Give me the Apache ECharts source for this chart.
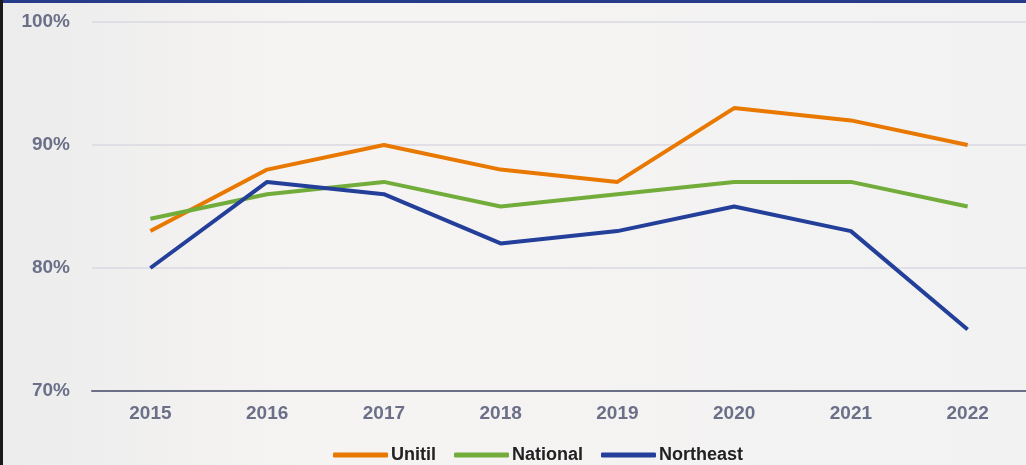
<!DOCTYPE html>
<html><head><meta charset="utf-8">
<script src="https://cdn.jsdelivr.net/npm/echarts@6/dist/echarts.min.js"></script>
<style>html,body{margin:0;padding:0;background:#f2f2f2}#c{width:1026px;height:465px}</style>
</head><body><div id="c"></div>
<script>
const categories = ['2015','2016','2017','2018','2019','2020','2021','2022'];
const unitil = [83, 88, 90, 88, 87, 93, 92, 90];
const national = [84, 86, 87, 85, 86, 87, 87, 85];
const northeast = [80, 87, 86, 82, 83, 85, 83, 75];
const yTicks = [70, 80, 90, 100];

const chart = echarts.init(document.getElementById('c'));
const font = '"Liberation Sans", Arial, sans-serif';
function line(name, data, color) {
  return { name, type: 'line', data, symbol: 'none', lineStyle: { color, width: 4 }, itemStyle: { color } };
}
chart.setOption({
  backgroundColor: {
    type: 'linear', x: 0, y: 0, x2: 1, y2: 0,
    colorStops: [{ offset: 0, color: '#ececec' }, { offset: 0.3, color: '#f6f4f3' }, { offset: 1, color: '#f2f2f2' }]
  },
  animation: false,
  graphic: [
    { type: 'rect', left: 0, top: 0, shape: { width: 1026, height: 3 }, style: { fill: '#263b8a' } },
    { type: 'rect', left: 0, top: 0, shape: { width: 3, height: 465 }, style: { fill: '#1a1a1a' } }
  ],
  grid: { left: 92, top: 22, width: 936, bottom: 74, containLabel: false },
  legend: {
    bottom: -4, left: 328, itemWidth: 55, itemHeight: 5, itemGap: 18,
    icon: 'roundRect',
    textStyle: { fontFamily: font, fontWeight: 'bold', fontSize: 18, color: '#222222', padding: [0, 0, 0, -2] },
    data: ['Unitil', 'National', 'Northeast']
  },
  xAxis: {
    type: 'category', data: categories, boundaryGap: true,
    axisLine: { lineStyle: { color: '#6b7088', width: 2 } },
    axisTick: { show: false },
    axisLabel: { fontFamily: font, fontWeight: 'bold', fontSize: 19, color: '#6b7088', margin: 13 }
  },
  yAxis: {
    type: 'value', min: yTicks[0], max: yTicks[yTicks.length - 1], interval: 10,
    axisLine: { show: false }, axisTick: { show: false },
    splitLine: { lineStyle: { color: '#d9d9e1', width: 1.5 } },
    axisLabel: { fontFamily: font, fontWeight: 'bold', fontSize: 19, color: '#6b7088', margin: 22, formatter: '{value}%' }
  },
  series: [
    line('Unitil', unitil, '#e87800'),
    line('National', national, '#72ac3a'),
    line('Northeast', northeast, '#243f9a')
  ]
});
</script></body></html>
